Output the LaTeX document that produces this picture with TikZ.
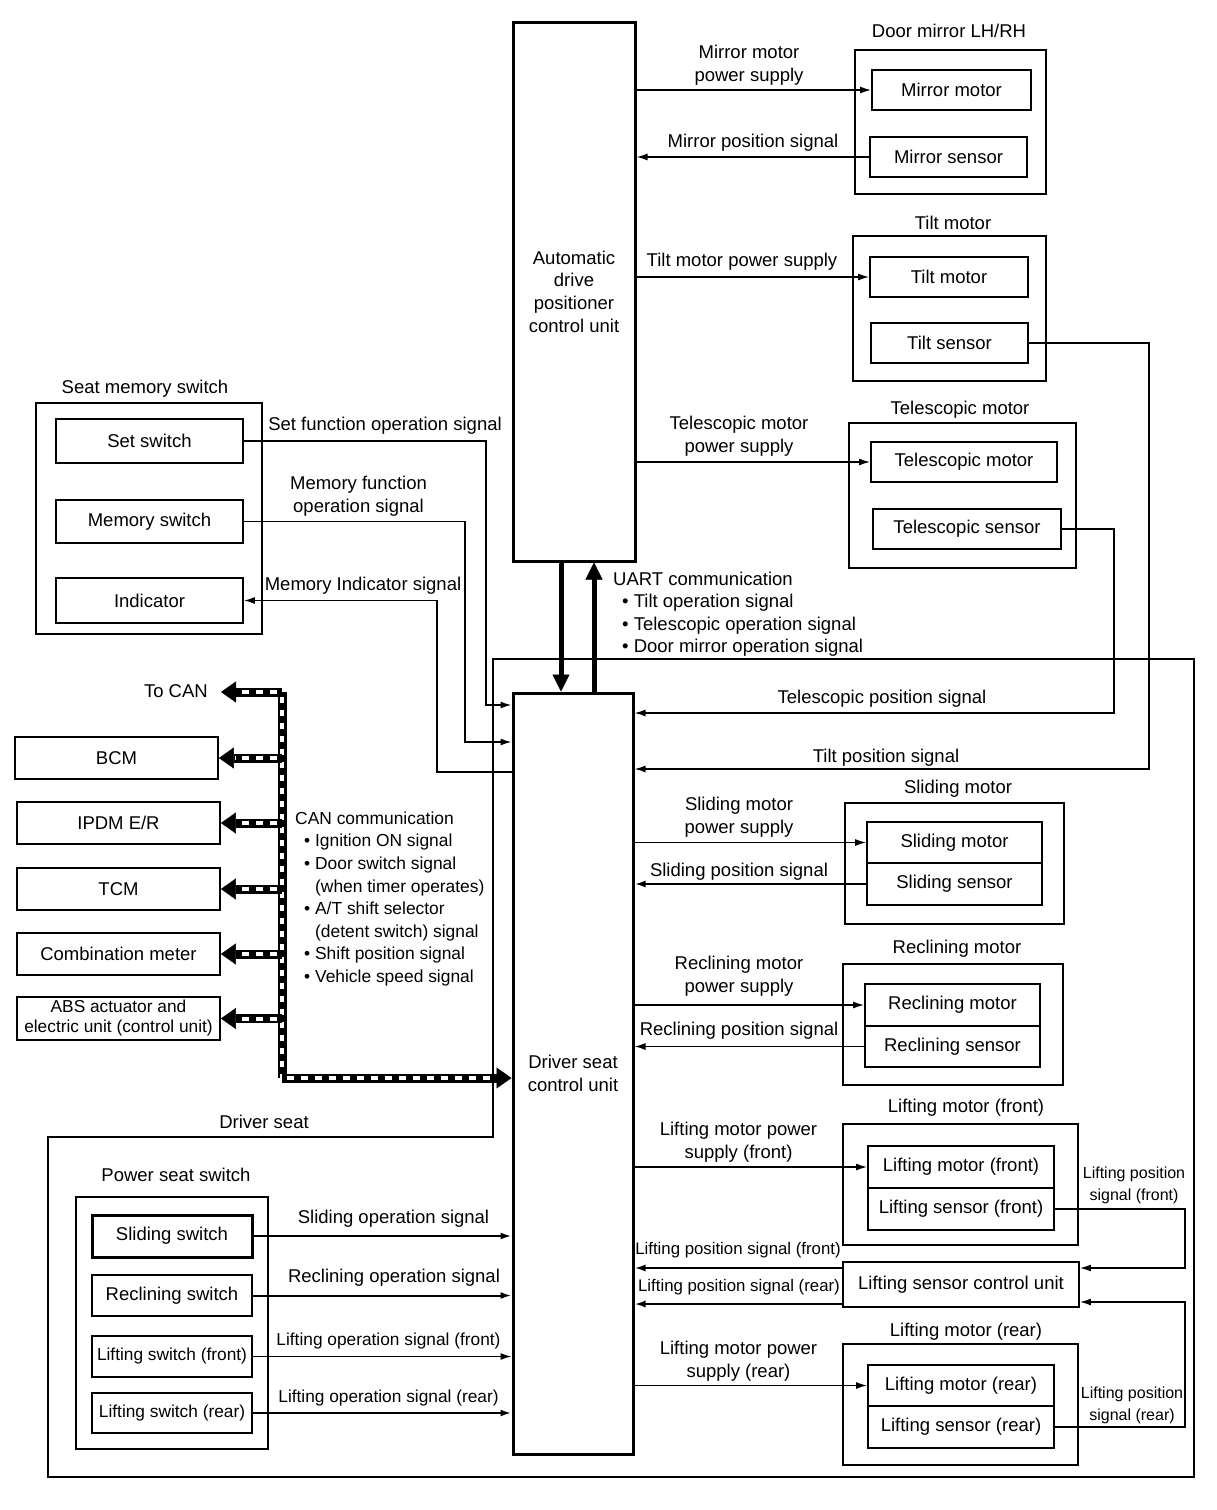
\documentclass[tikz,border=0pt]{standalone}
\usepackage{fontspec}
\setmainfont{Liberation Sans}
\usetikzlibrary{arrows.meta}
\newcommand\fA{\fontsize{18.5}{22.6}\selectfont}
\newcommand\fB{\fontsize{17.3}{20}\selectfont}
\newcommand\fBB{\fontsize{17.4}{22.6}\selectfont}
\newcommand\fC{\fontsize{16}{22}\selectfont}
\newcommand\fD{\fontsize{16.8}{20}\selectfont}
\newcommand\bx[7][]{\node[box,#1,minimum width={(#5-#3)*1pt},minimum height={(#6-#4)*1pt}] (#2) at ({(#3+#5)/2},{(#4+#6)/2}) {#7};}
\tikzset{
  box/.style={draw, line width=1.8pt, inner sep=1pt, align=center, font=\fA},
  heavy/.style={line width=3pt},
  lbl/.style={inner sep=0pt, align=center, font=\fA},
  arr/.style={line width=1.5pt, -{Latex[length=11pt,width=7pt]}},
  wire/.style={line width=1.5pt},
  uart/.style={line width=5pt, -{Triangle[length=17pt,width=17pt,line width=0.5pt]}},
  canbus/.style={line width=9pt, -{Triangle[length=15pt,width=21pt,line width=0.5pt]},
     postaction={draw=white, line width=4pt, -, dash pattern=on 7pt off 7pt, shorten >=16pt, shorten <=5pt}},
  canplain/.style={line width=9pt,
     postaction={draw=white, line width=4pt, dash pattern=on 6pt off 7pt, shorten <=5pt}},
}
\begin{document}
\begin{tikzpicture}[x=1pt,y=-1pt]
\useasboundingbox (0,0) rectangle (1216,1510);
% Driver seat boundary
\draw[line width=1.8pt] (48,1137) -- (493,1137) -- (493,659) -- (1194,659) -- (1194,1477) -- (48,1477) -- cycle;
\node[lbl] (dslbl) at (264,1122) {Driver seat};

% main control units
\bx[heavy]{adp}{513}{22}{635}{561}{Automatic\\drive\\positioner\\control unit}
\bx[heavy]{dscu}{513}{693}{633}{1454}{Driver seat\\control unit}

% door mirror
\bx{dmo}{855}{50}{1046}{194}{}
\bx{mm}{872}{70}{1031}{110}{Mirror motor}
\bx{ms}{870}{137}{1027}{177}{Mirror sensor}
\node[lbl] (dmlbl) at (949,31) {Door mirror LH/RH};
% tilt
\bx{tmo}{853}{236}{1046}{381}{}
\bx{tm}{870}{257}{1028}{297}{Tilt motor}
\bx{ts}{871}{323}{1028}{363}{Tilt sensor}
\node[lbl] (tmlbl) at (953,223) {Tilt motor};
% telescopic
\bx[line width=1.5pt]{teo}{849}{423}{1076}{568}{}
\bx{tem}{871}{442}{1057}{482}{Telescopic motor}
\bx{tes}{873}{509}{1061}{549}{Telescopic sensor}
\node[lbl] (telbl) at (960,410) {Telescopic motor};

% seat memory switch
\bx{smo}{36}{403}{262}{634}{}
\bx{setsw}{56}{419}{243}{463}{Set switch}
\bx{memsw}{56}{500}{243}{543}{Memory switch}
\bx{ind}{56}{578}{243}{623}{Indicator}
\node[lbl] (smlbl) at (145,389) {Seat memory switch};

% CAN units
\bx{bcm}{15}{737}{218}{779}{BCM}
\bx{ipdm}{17}{802}{220}{844}{IPDM E/R}
\bx{tcm}{17}{868}{220}{910}{TCM}
\bx{comb}{17}{933}{220}{975}{Combination meter}
\bx[font=\fB, inner sep=0pt]{abs}{17}{997}{220}{1040}{ABS actuator and\\electric unit (control unit)}

% sliding / reclining
\bx{slo}{845}{803}{1064}{924}{}
\bx{slm}{867}{822}{1042}{863}{Sliding motor}
\bx{sls}{867}{863}{1042}{905}{Sliding sensor}
\node[lbl] (sllbl) at (958,789) {Sliding motor};
\bx{rco}{843}{964}{1063}{1085}{}
\bx{rcm}{865}{984}{1040}{1026}{Reclining motor}
\bx{rcs}{865}{1026}{1040}{1067}{Reclining sensor}
\node[lbl] (rclbl) at (957,949) {Reclining motor};

% lifting
\bx{lfo}{843}{1124}{1078}{1245}{}
\bx{lfm}{868}{1146}{1054}{1188}{Lifting motor (front)}
\bx{lfs}{868}{1188}{1054}{1230}{Lifting sensor (front)}
\node[lbl] (lflbl) at (966,1108) {Lifting motor (front)};
\bx{lscu}{843}{1262}{1079}{1307}{Lifting sensor control unit}
\bx{lro}{843}{1344}{1078}{1465}{}
\bx{lrm}{868}{1365}{1054}{1406}{Lifting motor (rear)}
\bx{lrs}{868}{1406}{1054}{1448}{Lifting sensor (rear)}
\node[lbl] (lrlbl) at (966,1332) {Lifting motor (rear)};

% power seat switch
\bx{pso}{76}{1197}{268}{1449}{}
\bx[heavy]{sws}{92}{1215}{252}{1257}{Sliding switch}
\bx{swr}{92}{1275}{252}{1316}{Reclining switch}
\bx[font=\fB]{swlf}{92}{1336}{252}{1377}{Lifting switch (front)}
\bx[font=\fB]{swlr}{92}{1393}{252}{1433}{Lifting switch (rear)}
\node[lbl] (pslbl) at (176,1175) {Power seat switch};

% ---- ADP connections
\draw[arr] (adp.east |- mm.west) -- (mm.west);
\node[lbl] (l1) at (749,65.5) {Mirror motor\\power supply};
\draw[arr] (ms.west) -- (adp.east |- ms.west);
\node[lbl] (l2) at (753,143) {Mirror position signal};
\draw[arr] (adp.east |- tm.west) -- (tm.west);
\node[lbl] (l3) at (742,262) {Tilt motor power supply};
\draw[arr] (adp.east |- tem.west) -- (tem.west);
\node[lbl] (l4) at (739,436.5) {Telescopic motor\\power supply};

% UART
\coordinate (ua) at (561,0);
\coordinate (ub) at (594,0);
\draw[uart] (adp.south -| ua) -- (dscu.north -| ua);
\draw[uart] (dscu.north -| ub) -- (adp.south -| ub);
\node[lbl, align=left, anchor=north west] (uartlbl) at (613,571.5)
 {UART communication\\
  \hspace*{9pt}• Tilt operation signal\\
  \hspace*{9pt}• Telescopic operation signal\\
  \hspace*{9pt}• Door mirror operation signal};

% position signals from steering
\coordinate (telc) at (1114,713);
\coordinate (tiltc) at (1149,769);
\draw[arr] (tes.east) -| (telc) -- (dscu.east |- telc);
\node[lbl] (l5) at (882,699) {Telescopic position signal};
\draw[arr] (ts.east) -| (tiltc) -- (dscu.east |- tiltc);
\node[lbl] (l6) at (886,758) {Tilt position signal};

% seat memory
\coordinate (setc) at (486,705);
\coordinate (memc) at (465,742);
\coordinate (indc) at (437,772);
\draw[arr] (setsw.east) -| (setc) -- (dscu.west |- setc);
\node[lbl] (l7) at (385,426) {Set function operation signal};
\draw[arr] (memsw.east) -| (memc) -- (dscu.west |- memc);
\node[lbl] (l8) at (358.5,496.5) {Memory function\\operation signal};
\draw[arr] (dscu.west |- indc) -- (indc) |- (ind.east);
\node[lbl] (l9) at (363,586) {Memory Indicator signal};

% CAN
\coordinate (cant) at (282,692);
\coordinate (canb) at (282,1078);
\coordinate (tocan) at (221,692);
\draw[canplain] (cant) -- (canb);
\draw[canbus] (cant) -- (tocan);
\draw[canbus] (canb) -- (dscu.west |- canb);
\draw[canbus] (cant |- bcm.east) -- (bcm.east);
\draw[canbus] (cant |- ipdm.east) -- (ipdm.east);
\draw[canbus] (cant |- tcm.east) -- (tcm.east);
\draw[canbus] (cant |- comb.east) -- (comb.east);
\draw[canbus] (cant |- abs.east) -- (abs.east);
\node[lbl, anchor=east] (tocanlbl) at (208,691) {To CAN};
\node[lbl, font=\fBB, align=left, anchor=north west] (canlbl) at (295,811.5)
 {CAN communication\\
  \hspace*{9pt}• Ignition ON signal\\
  \hspace*{9pt}• Door switch signal\\
  \hspace*{20pt}(when timer operates)\\
  \hspace*{9pt}• A/T shift selector\\
  \hspace*{20pt}(detent switch) signal\\
  \hspace*{9pt}• Shift position signal\\
  \hspace*{9pt}• Vehicle speed signal};

% sliding / reclining
\draw[arr] (dscu.east |- slm.west) -- (slm.west);
\node[lbl] (l10) at (739,817.5) {Sliding motor\\power supply};
\draw[arr, line width=2.2pt] (sls.west) -- (dscu.east |- sls.west);
\node[lbl] (l11) at (739,872) {Sliding position signal};
\draw[arr] (dscu.east |- rcm.west) -- (rcm.west);
\node[lbl] (l12) at (739,976.5) {Reclining motor\\power supply};
\draw[arr] (rcs.west) -- (dscu.east |- rcs.west);
\node[lbl] (l13) at (739,1031) {Reclining position signal};

% lifting
\draw[arr] (dscu.east |- lfm.west) -- (lfm.west);
\node[lbl] (l14) at (738.5,1142.5) {Lifting motor power\\supply (front)};
\draw[arr] (dscu.east |- lrm.west) -- (lrm.west);
\node[lbl] (l15) at (738.5,1361) {Lifting motor power\\supply (rear)};
\coordinate (lfc) at (1185,1268);
\coordinate (lrc) at (1185,1302);
\draw[arr] (lfs.east) -| (lfc) -- (lscu.east |- lfc);
\draw[arr] (lrs.east) -| (lrc) -- (lscu.east |- lrc);
\node[lbl, font=\fC] (l16) at (1134,1185) {Lifting position\\signal (front)};
\node[lbl, font=\fC] (l17) at (1132,1405) {Lifting position\\signal (rear)};
\coordinate (llf) at (0,1268);
\coordinate (llr) at (0,1304);
\draw[arr, line width=2pt] (lscu.west |- llf) -- (dscu.east |- llf);
\draw[arr, line width=2pt] (lscu.west |- llr) -- (dscu.east |- llr);
\node[lbl, font=\fD] (l18) at (738,1250) {Lifting position signal (front)};
\node[lbl, font=\fD] (l19) at (739,1287) {Lifting position signal (rear)};

% power seat switch signals
\draw[arr, line width=2pt] (sws.east) -- (dscu.west |- sws.east);
\node[lbl] (l20) at (393.5,1219) {Sliding operation signal};
\draw[arr, line width=2pt] (swr.east) -- (dscu.west |- swr.east);
\node[lbl] (l21) at (394,1278) {Reclining operation signal};
\draw[arr] (swlf.east) -- (dscu.west |- swlf.east);
\node[lbl, font=\fB] (l22) at (388.5,1341) {Lifting operation signal (front)};
\draw[arr, line width=2.2pt] (swlr.east) -- (dscu.west |- swlr.east);
\node[lbl, font=\fB] (l23) at (388.5,1398) {Lifting operation signal (rear)};
\end{tikzpicture}
\end{document}
